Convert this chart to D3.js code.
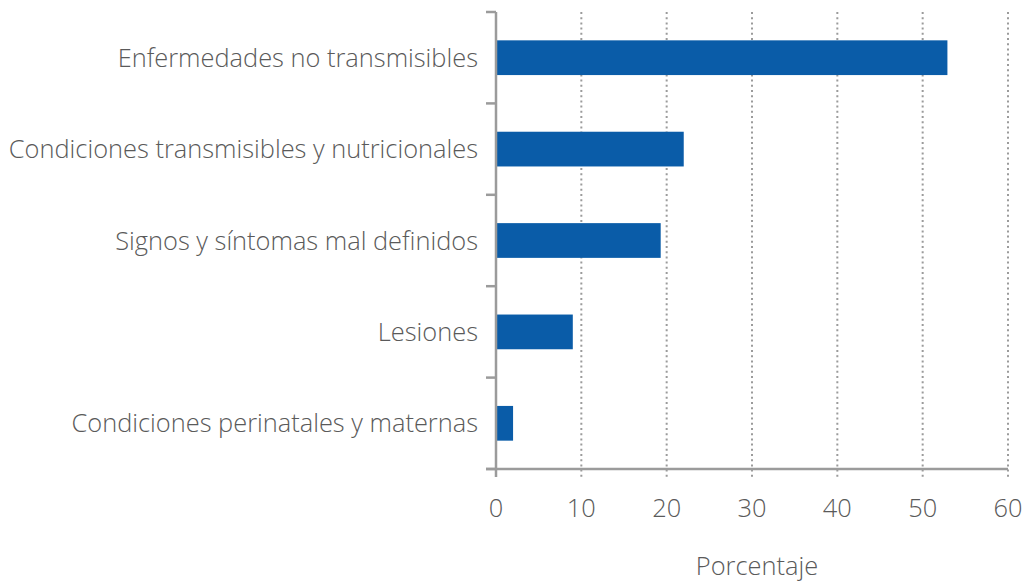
<!DOCTYPE html>
<html>
<head>
<meta charset="utf-8">
<script src="https://cdn.jsdelivr.net/npm/d3@7"></script>
<style>
  html, body { margin: 0; padding: 0; background: #fff; }
  svg { display: block; }
  text { font-family: "Open Sans", Lato, "Liberation Sans", sans-serif; font-weight: 300; fill: #5a5a5a; }
</style>
</head>
<body>
<svg id="chart" width="1027" height="585"></svg>
<script>
// Causes of death, percentage distribution
const categories = [
  "Enfermedades no transmisibles",
  "Condiciones transmisibles y nutricionales",
  "Signos y síntomas mal definidos",
  "Lesiones",
  "Condiciones perinatales y maternas"
];
const values = [52.9, 22.0, 19.3, 9.0, 2.0];
const xTicks = [0, 10, 20, 30, 40, 50, 60];
const xTitle = "Porcentaje";

const width = 1027, height = 585;
const margin = { top: 12, right: 19, bottom: 116, left: 496 };
const fontSize = 25.4;

const svg = d3.select("#chart");
const axisColor = "#9b9b9b";
const barColor = "#0a5ca8";

const x = d3.scaleLinear()
  .domain([0, 60])
  .range([margin.left, width - margin.right]);

const y = d3.scaleBand()
  .domain(categories)
  .range([margin.top, height - margin.bottom])
  .paddingInner(0.62)
  .paddingOuter(0.31);

const yTop = margin.top, yBottom = height - margin.bottom;

// dotted vertical gridlines (extend a little below the axis as tick marks)
svg.append("g")
  .selectAll("line")
  .data(xTicks.filter(d => d > 0))
  .join("line")
  .attr("x1", d => x(d)).attr("x2", d => x(d))
  .attr("y1", yTop).attr("y2", yBottom + 10)
  .attr("stroke", axisColor)
  .attr("stroke-width", 2)
  .attr("stroke-dasharray", "2,3.2");

// bars
svg.append("g")
  .selectAll("rect")
  .data(categories)
  .join("rect")
  .attr("x", x(0))
  .attr("y", d => y(d))
  .attr("width", (d, i) => x(values[i]) - x(0))
  .attr("height", y.bandwidth())
  .attr("fill", barColor);

// category axis: vertical line with boundary ticks on the left
const bounds = d3.range(categories.length + 1).map(i => yTop + i * (yBottom - yTop) / categories.length);
const yAxis = svg.append("g");
yAxis.append("line")
  .attr("x1", x(0)).attr("x2", x(0))
  .attr("y1", yTop).attr("y2", yBottom)
  .attr("stroke", axisColor).attr("stroke-width", 2.5);
yAxis.selectAll("line.tick")
  .data(bounds)
  .join("line")
  .attr("class", "tick")
  .attr("x1", x(0) - 10).attr("x2", x(0))
  .attr("y1", d => d).attr("y2", d => d)
  .attr("stroke", axisColor).attr("stroke-width", 2.5);

// category labels
yAxis.selectAll("text")
  .data(categories)
  .join("text")
  .attr("x", x(0) - 18)
  .attr("y", d => y(d) + y.bandwidth() / 2)
  .attr("dy", "0.36em")
  .attr("text-anchor", "end")
  .attr("font-size", fontSize)
  .text(d => d);

// value axis: horizontal line, zero tick, labels
const xAxis = svg.append("g");
xAxis.append("line")
  .attr("x1", x(0) - 10).attr("x2", x(60))
  .attr("y1", yBottom).attr("y2", yBottom)
  .attr("stroke", axisColor).attr("stroke-width", 2.5);
xAxis.append("line")
  .attr("x1", x(0)).attr("x2", x(0))
  .attr("y1", yBottom).attr("y2", yBottom + 8)
  .attr("stroke", axisColor).attr("stroke-width", 2.5);
xAxis.selectAll("text")
  .data(xTicks)
  .join("text")
  .attr("x", d => x(d))
  .attr("y", yBottom + 48)
  .attr("text-anchor", "middle")
  .attr("font-size", fontSize)
  .text(d => d);

// axis title
svg.append("text")
  .attr("x", 757)
  .attr("y", 575)
  .attr("text-anchor", "middle")
  .attr("font-size", fontSize)
  .text(xTitle);
</script>
</body>
</html>
